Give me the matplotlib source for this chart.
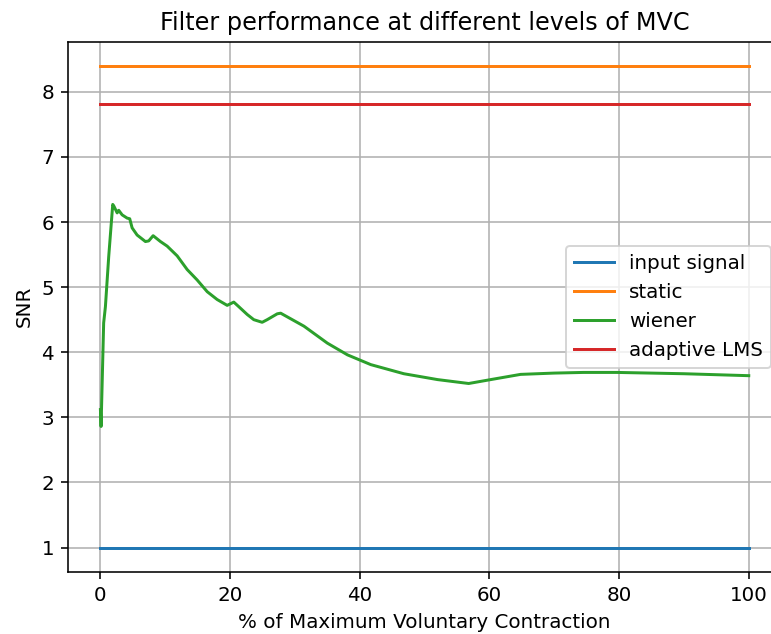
import numpy as np
import matplotlib.pyplot as plt

# SNR vs % MVC for each filter
mvc = [0, 0.1, 0.5, 0.77, 1.28, 1.9, 2.1, 2.58, 2.82, 3.35, 4.12, 4.52, 4.89, 5.66,
       6.94, 7.45, 8.13, 9.26, 10.29, 11.84, 13.38, 14.92, 16.47, 18.0, 19.55,
       20.57, 21.34, 22.64, 23.66, 24.95, 25.72, 27.27, 27.8, 31.4, 35.0, 38.1,
       41.7, 46.8, 52.0, 56.8, 60.2, 64.8, 70.0, 74.5, 79.7, 90.0, 100]
wiener = [3.12, 2.86, 4.45, 4.70, 5.47, 6.27, 6.24, 6.14, 6.18, 6.11, 6.06, 6.05,
          5.91, 5.80, 5.70, 5.71, 5.79, 5.70, 5.63, 5.48, 5.27, 5.11, 4.93, 4.81,
          4.72, 4.77, 4.70, 4.58, 4.50, 4.46, 4.50, 4.59, 4.60, 4.40, 4.14, 3.96,
          3.81, 3.67, 3.58, 3.52, 3.58, 3.66, 3.68, 3.69, 3.69, 3.67, 3.64]
input_snr = 1.0
static_snr = 8.4
lms_snr = 7.82

x = np.array(mvc)

dpi = 143
fig = plt.figure(figsize=(771 / dpi, 634 / dpi), dpi=dpi)
ax = fig.add_axes([0.0882, 0.0983, 0.925, 0.836])
ax.plot(x, np.full_like(x, input_snr), label='input signal')
ax.plot(x, np.full_like(x, static_snr), label='static')
ax.plot(x, wiener, label='wiener')
ax.plot(x, np.full_like(x, lms_snr), label='adaptive LMS')
ax.set_title('Filter performance at different levels of MVC')
ax.set_xlabel('% of Maximum Voluntary Contraction')
ax.set_ylabel('SNR')
ax.grid(True)
ax.legend(loc='center right')
fig.savefig('out.png', dpi=dpi)
